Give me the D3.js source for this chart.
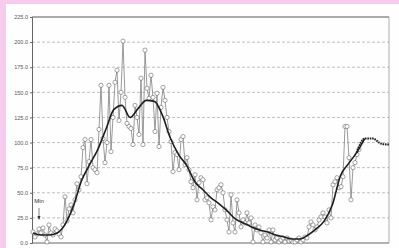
<!DOCTYPE html>
<html>
<head>
<meta charset="utf-8">
<script src="https://cdn.jsdelivr.net/npm/d3@7"></script>
<style>
  body { margin: 0; background: #f6cbee; }
  svg { display: block; }
  .tick-label { font-family: "Liberation Sans", Arial, sans-serif; font-size: 5.5px; fill: #555; }
</style>
</head>
<body>
<svg id="chart" width="399" height="248"></svg>
<script>
// weekly observed counts (one every week, starting at week 0)
let observed = [11, 6, 9, 14, 10, 15, 8, 1, 18, 10, 8, 14, 12, 9, 6, 18, 46, 22, 34, 38,
    30, 43, 59, 53, 66, 95, 103, 59, 81, 103, 75, 73, 70, 113, 157, 104, 80, 100, 157, 91,
    125, 160, 172, 122, 150, 201, 145, 119, 116, 114, 98, 137, 125, 108, 164, 98, 192, 154, 144, 167,
    145, 111, 149, 96, 135, 155, 142, 125, 111, 101, 71, 90, 88, 73, 103, 106, 78, 85, 73, 61,
    55, 68, 43, 60, 65, 63, 43, 45, 40, 23, 36, 33, 53, 55, 58, 50, 33, 23, 11, 48,
    20, 11, 43, 30, 16, 23, 20, 30, 20, 25, 1, 18, 13, 16, 10, 1, 8, 5, 13, 1,
    13, 3, 5, 1, 3, 5, 1, 5, 2, 3, 1, 1, 3, 5, 1, 3, 6, 5, 16, 21,
    18, 13, 16, 23, 26, 30, 26, 20, 33, 25, 58, 61, 65, 55, 56, 66, 116, 116, 85, 43,
    75, 80, 88, 93];

// smoothed trend, read at equal steps from week 0 to the last projected week
let trend = [10, 8, 8, 10, 19, 37, 62, 78, 93, 113, 133, 137, 125, 134, 142, 141, 127, 104, 88, 77,
    61, 53, 45, 39, 32, 24, 20, 16, 13, 11, 8, 6, 4, 4, 8, 14, 22, 38, 67, 79,
    90, 104, 104, 99, 98];
let lastWeek = 178;

let yTicks = [0, 25, 50, 75, 100, 125, 150, 175, 200, 225];

let svg = d3.select('#chart');

// white sheet over the pink background
svg.append('rect')
    .attr('x', 6).attr('y', 4)
    .attr('width', 393).attr('height', 244)
    .attr('fill', '#fefefe');

let plotLeft = 32, plotRight = 389, plotTop = 17, plotBottom = 243;

let x = d3.scaleLinear().domain([0, lastWeek]).range([plotLeft + 1, plotRight]);
let y = d3.scaleLinear().domain([0, 225]).range([plotBottom, plotTop]);

// dashed grid lines
svg.selectAll('line.grid')
    .data(yTicks.filter(t => t > 0 && t < 225))
    .enter().append('line')
    .attr('class', 'grid')
    .attr('x1', plotLeft).attr('x2', plotRight)
    .attr('y1', d => y(d)).attr('y2', d => y(d))
    .attr('stroke', '#a8a4a0')
    .attr('stroke-width', 0.7)
    .attr('stroke-dasharray', '3,2');

// frame
svg.append('line')
    .attr('x1', plotLeft).attr('x2', plotRight)
    .attr('y1', y(225)).attr('y2', y(225))
    .attr('stroke', '#555').attr('stroke-width', 1);
svg.append('line')
    .attr('x1', plotRight).attr('x2', plotRight)
    .attr('y1', y(225)).attr('y2', y(0))
    .attr('stroke', '#999').attr('stroke-width', 0.8);

let yAxis = d3.axisLeft(y).tickValues(yTicks).tickSize(2).tickFormat(d3.format('.1f'));
let gy = svg.append('g')
    .attr('transform', `translate(${plotLeft},0)`)
    .call(yAxis);
gy.select('.domain').attr('stroke', '#666');
gy.selectAll('.tick line').attr('stroke', '#666');
gy.selectAll('.tick text')
    .attr('class', 'tick-label')
    .attr('x', -4)
    .attr('font-size', null).attr('font-family', null).attr('fill', null);

svg.append('line')
    .attr('x1', plotLeft).attr('x2', plotRight)
    .attr('y1', y(0)).attr('y2', y(0))
    .attr('stroke', '#666').attr('stroke-width', 1);

// observed series: thin gray line with open circles
let obsLine = d3.line()
    .x((d, i) => x(i))
    .y(d => y(d));

svg.append('path')
    .datum(observed)
    .attr('d', obsLine)
    .attr('fill', 'none')
    .attr('stroke', '#808080')
    .attr('stroke-width', 0.8);

svg.selectAll('circle.obs')
    .data(observed)
    .enter().append('circle')
    .attr('class', 'obs')
    .attr('cx', (d, i) => x(i))
    .attr('cy', d => y(d))
    .attr('r', 2.1)
    .attr('fill', '#fff')
    .attr('stroke', '#666')
    .attr('stroke-width', 0.6);

// smoothed trend, solid over the observed weeks and beaded for the projection
let trendX = d3.scaleLinear().domain([0, trend.length - 1]).range([0, lastWeek]);
let lastObs = observed.length - 1;
let trendPts = trend.map((d, i) => ({v: d, i: i}));
let solidPart = trendPts.filter(d => trendX(d.i) <= lastObs + 4);
let projPart = trendPts.filter(d => trendX(d.i) >= lastObs - 4);

let partLine = d3.line()
    .x(d => x(trendX(d.i)))
    .y(d => y(d.v))
    .curve(d3.curveMonotoneX);

svg.append('path')
    .datum(solidPart)
    .attr('d', partLine)
    .attr('fill', 'none')
    .attr('stroke', '#1e1e1e')
    .attr('stroke-width', 1.6);

svg.append('path')
    .datum(projPart)
    .attr('d', partLine)
    .attr('fill', 'none')
    .attr('stroke', '#1e1e1e')
    .attr('stroke-width', 2)
    .attr('stroke-dasharray', '1.6,0.8');

// "Min" note with arrow
svg.append('text')
    .attr('x', x(3)).attr('y', y(40))
    .attr('text-anchor', 'middle')
    .attr('font-family', 'Liberation Sans, Arial, sans-serif')
    .attr('font-size', 6)
    .attr('fill', '#333')
    .text('Min');

svg.append('line')
    .attr('x1', x(3)).attr('x2', x(3))
    .attr('y1', y(35)).attr('y2', y(24))
    .attr('stroke', '#333').attr('stroke-width', 0.6);
svg.append('path')
    .attr('d', `M ${x(3) - 1.5} ${y(27)} L ${x(3)} ${y(23)} L ${x(3) + 1.5} ${y(27)} Z`)
    .attr('fill', '#333');
</script>
</body>
</html>
